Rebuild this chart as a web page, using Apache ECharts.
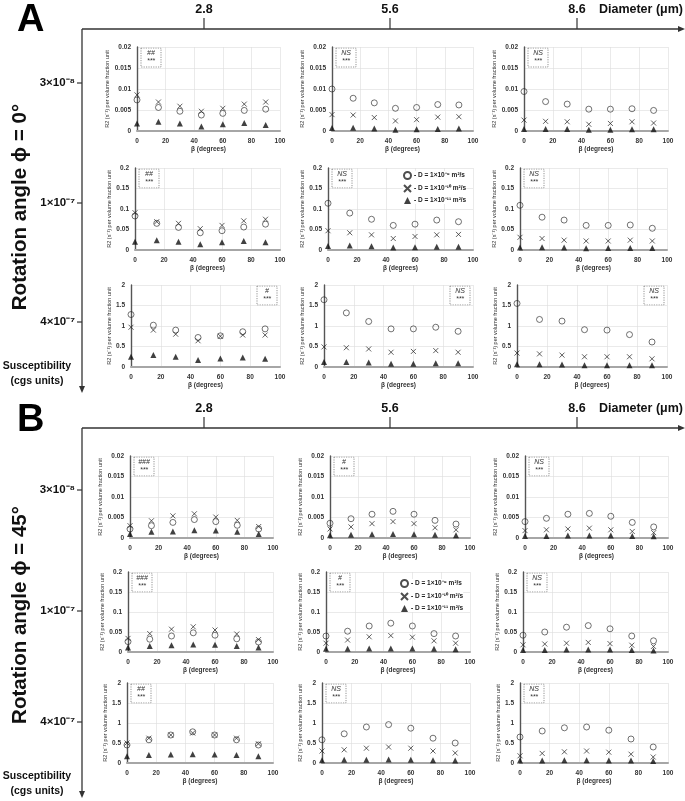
<!DOCTYPE html>
<html><head><meta charset="utf-8">
<script src="https://cdn.jsdelivr.net/npm/echarts@6/dist/echarts.min.js"></script>
<style>html,body{margin:0;padding:0;background:#fff}#c{width:685px;height:801px}</style>
</head><body><div id="c"></div>
<script>
// ---------- DATA ----------
const betaDeg = [0, 15, 30, 45, 60, 75, 90];
const diameterLabels = ['2.8', '5.6', '8.6'];
const susceptibilityLabels = ['3×10⁻⁸', '1×10⁻⁷', '4×10⁻⁷'];
const seriesNames = ['D = 1×10⁻⁹ m²/s', 'D = 1×10⁻¹⁰ m²/s', 'D = 1×10⁻¹¹ m²/s'];
const rowYMax = [0.02, 0.2, 2];
const rowYInterval = [0.005, 0.05, 0.5];
const panelTitles = ['Rotation angle ϕ = 0°', 'Rotation angle ϕ = 45°'];
const sigA = [['##', 'NS', 'NS'], ['##', 'NS', 'NS'], ['#', 'NS', 'NS']];
const sigB = [['###', '#', 'NS'], ['###', '#', 'NS'], ['##', 'NS', 'NS']];

// Panel A (ϕ = 0°): aRC_dN  (R = susceptibility row, C = diameter column)
const a11_d9  = [0.0074, 0.0056, 0.0047, 0.0038, 0.0042, 0.0049, 0.0052];
const a11_d10 = [0.0086, 0.0069, 0.0059, 0.0047, 0.0054, 0.0064, 0.0069];
const a11_d11 = [0.0018, 0.0022, 0.0018, 0.0011, 0.0016, 0.0019, 0.0014];
const a12_d9  = [0.0100, 0.0078, 0.0067, 0.0054, 0.0056, 0.0063, 0.0062];
const a12_d10 = [0.0039, 0.0038, 0.0032, 0.0024, 0.0027, 0.0033, 0.0034];
const a12_d11 = [0.0007, 0.0008, 0.0006, 0.0003, 0.0004, 0.0005, 0.0006];
const a13_d9  = [0.0094, 0.0070, 0.0064, 0.0052, 0.0052, 0.0053, 0.0049];
const a13_d10 = [0.0026, 0.0023, 0.0022, 0.0016, 0.0018, 0.0022, 0.0019];
const a13_d11 = [0.0005, 0.0005, 0.0005, 0.0003, 0.0003, 0.0004, 0.0004];
const a21_d9  = [0.083, 0.065, 0.055, 0.042, 0.047, 0.056, 0.063];
const a21_d10 = [0.091, 0.069, 0.065, 0.052, 0.060, 0.071, 0.075];
const a21_d11 = [0.020, 0.024, 0.020, 0.014, 0.019, 0.022, 0.019];
const a22_d9  = [0.114, 0.090, 0.075, 0.060, 0.063, 0.073, 0.069];
const a22_d10 = [0.047, 0.042, 0.037, 0.028, 0.033, 0.037, 0.038];
const a22_d11 = [0.010, 0.011, 0.009, 0.006, 0.007, 0.008, 0.008];
const a23_d9  = [0.109, 0.080, 0.073, 0.060, 0.060, 0.061, 0.053];
const a23_d10 = [0.031, 0.028, 0.024, 0.022, 0.022, 0.024, 0.022];
const a23_d11 = [0.006, 0.007, 0.006, 0.004, 0.005, 0.005, 0.005];
const a31_d9  = [1.28, 1.02, 0.90, 0.72, 0.76, 0.86, 0.93];
const a31_d10 = [0.97, 0.90, 0.80, 0.64, 0.75, 0.78, 0.78];
const a31_d11 = [0.25, 0.29, 0.25, 0.17, 0.21, 0.23, 0.20];
const a32_d9  = [1.64, 1.32, 1.11, 0.93, 0.93, 0.97, 0.87];
const a32_d10 = [0.49, 0.47, 0.44, 0.36, 0.38, 0.40, 0.36];
const a32_d11 = [0.12, 0.12, 0.11, 0.08, 0.08, 0.09, 0.09];
const a33_d9  = [1.55, 1.16, 1.12, 0.91, 0.90, 0.79, 0.61];
const a33_d10 = [0.34, 0.32, 0.29, 0.25, 0.25, 0.25, 0.20];
const a33_d11 = [0.07, 0.07, 0.06, 0.04, 0.04, 0.04, 0.04];

// Panel B (ϕ = 45°)
const b11_d9  = [0.0022, 0.0030, 0.0038, 0.0045, 0.0040, 0.0031, 0.0022];
const b11_d10 = [0.0030, 0.0042, 0.0054, 0.0059, 0.0051, 0.0043, 0.0028];
const b11_d11 = [0.0010, 0.0015, 0.0016, 0.0019, 0.0018, 0.0015, 0.0010];
const b12_d9  = [0.0036, 0.0047, 0.0058, 0.0065, 0.0058, 0.0043, 0.0034];
const b12_d10 = [0.0022, 0.0027, 0.0035, 0.0040, 0.0035, 0.0025, 0.0020];
const b12_d11 = [0.0007, 0.0008, 0.0009, 0.0010, 0.0009, 0.0008, 0.0007];
const b13_d9  = [0.0040, 0.0048, 0.0058, 0.0060, 0.0053, 0.0038, 0.0027];
const b13_d10 = [0.0018, 0.0020, 0.0022, 0.0024, 0.0020, 0.0016, 0.0013];
const b13_d11 = [0.0005, 0.0005, 0.0006, 0.0006, 0.0006, 0.0005, 0.0004];
const b21_d9  = [0.026, 0.032, 0.040, 0.048, 0.042, 0.033, 0.025];
const b21_d10 = [0.034, 0.046, 0.057, 0.063, 0.055, 0.045, 0.031];
const b21_d11 = [0.011, 0.015, 0.017, 0.019, 0.018, 0.015, 0.011];
const b22_d9  = [0.040, 0.052, 0.065, 0.072, 0.065, 0.046, 0.040];
const b22_d10 = [0.022, 0.030, 0.038, 0.041, 0.037, 0.028, 0.022];
const b22_d11 = [0.008, 0.008, 0.009, 0.009, 0.009, 0.008, 0.007];
const b23_d9  = [0.042, 0.050, 0.062, 0.066, 0.058, 0.040, 0.028];
const b23_d10 = [0.018, 0.020, 0.022, 0.024, 0.021, 0.017, 0.014];
const b23_d11 = [0.005, 0.005, 0.006, 0.006, 0.006, 0.005, 0.004];
const b31_d9  = [0.45, 0.58, 0.70, 0.78, 0.70, 0.58, 0.45];
const b31_d10 = [0.50, 0.62, 0.70, 0.75, 0.70, 0.62, 0.48];
const b31_d11 = [0.17, 0.20, 0.21, 0.22, 0.21, 0.20, 0.17];
const b32_d9  = [0.58, 0.73, 0.90, 0.96, 0.87, 0.62, 0.50];
const b32_d10 = [0.30, 0.33, 0.37, 0.40, 0.37, 0.30, 0.25];
const b32_d11 = [0.07, 0.08, 0.08, 0.09, 0.08, 0.07, 0.06];
const b33_d9  = [0.65, 0.80, 0.88, 0.90, 0.82, 0.60, 0.40];
const b33_d10 = [0.18, 0.24, 0.28, 0.30, 0.27, 0.22, 0.15];
const b33_d11 = [0.06, 0.06, 0.07, 0.07, 0.06, 0.06, 0.05];

const panelData = [
  [[[a11_d9, a11_d10, a11_d11], [a12_d9, a12_d10, a12_d11], [a13_d9, a13_d10, a13_d11]],
   [[a21_d9, a21_d10, a21_d11], [a22_d9, a22_d10, a22_d11], [a23_d9, a23_d10, a23_d11]],
   [[a31_d9, a31_d10, a31_d11], [a32_d9, a32_d10, a32_d11], [a33_d9, a33_d10, a33_d11]]],
  [[[b11_d9, b11_d10, b11_d11], [b12_d9, b12_d10, b12_d11], [b13_d9, b13_d10, b13_d11]],
   [[b21_d9, b21_d10, b21_d11], [b22_d9, b22_d10, b22_d11], [b23_d9, b23_d10, b23_d11]],
   [[b31_d9, b31_d10, b31_d11], [b32_d9, b32_d10, b32_d11], [b33_d9, b33_d10, b33_d11]]]
];
const panelSig = [sigA, sigB];

// ---------- LAYOUT ----------
const layout = [
  { // panel A
    rows: [
      { top: 47, bottom: 131, cols: [[137, 280], [332, 473], [524, 668]] },
      { top: 168, bottom: 250, cols: [[135, 280], [328, 473], [520, 667]] },
      { top: 285, bottom: 367, cols: [[131, 280], [324, 473], [517, 667]] }
    ],
    sigRight: [[false, false, false], [false, false, false], [true, true, true]],
    legendPos: { left: 403, top: 171 },
    axisTop: 29, axisBottom: 393, letterY: 21, labelY: 10,
    ticksY: [83, 203, 322], suscY: 374, rotY: 207
  },
  { // panel B
    rows: [
      { top: 456, bottom: 538, cols: [[130, 273], [330, 470], [525, 668]] },
      { top: 572, bottom: 652, cols: [[128, 273], [326, 470], [523, 668]] },
      { top: 683, bottom: 763, cols: [[127, 273], [322, 470], [520, 668]] }
    ],
    sigRight: [[false, false, false], [false, false, false], [false, false, false]],
    legendPos: { left: 400, top: 579 },
    axisTop: 428, axisBottom: 798, letterY: 421, labelY: 409,
    ticksY: [490, 611, 722], suscY: 784, rotY: 615
  }
];
const diameterX = [204, 390, 577];
const axisX = 82;

const labelFont = { fontSize: 6.5, fontWeight: 'bold', color: '#333', fontFamily: 'Liberation Sans, Arial, sans-serif' };
const crossPath = 'path://M0,0L10,10M10,0L0,10';
const symbolStyles = [
  { symbol: 'circle', symbolSize: 6, itemStyle: { color: 'rgba(255,255,255,0)', borderColor: '#222', borderWidth: 0.8 } },
  { symbol: crossPath, symbolSize: 5, itemStyle: { color: 'rgba(255,255,255,0)', borderColor: '#222', borderWidth: 0.9 } },
  { symbol: 'triangle', symbolSize: 6, itemStyle: { color: '#111' } }
];

const grids = [], xAxes = [], yAxes = [], series = [], graphics = [], legends = [];
let gi = 0;
const boldFam = "'Liberation Sans Narrow', 'Liberation Sans', Arial, sans-serif";

layout.forEach((P, p) => {
  P.rows.forEach((R, r) => {
    R.cols.forEach((C, c) => {
      const L = C[0], Rt = C[1];
      grids.push({ left: L, top: R.top, width: Rt - L, height: R.bottom - R.top });
      xAxes.push({
        gridIndex: gi, type: 'value', min: 0, max: 100, interval: 20,
        name: 'β (degrees)', nameLocation: 'middle', nameGap: 13,
        nameTextStyle: { fontSize: 6.5, fontWeight: 'bold', color: '#333', fontFamily: 'Liberation Sans, Arial, sans-serif' },
        axisLine: { show: true, lineStyle: { color: '#a6a6a6', width: 2 } },
        axisTick: { show: false },
        axisLabel: Object.assign({ margin: 7 }, labelFont),
        splitLine: { show: true, lineStyle: { color: '#dcdcdc', width: 0.6 } }
      });
      yAxes.push({
        gridIndex: gi, type: 'value', min: 0, max: rowYMax[r], interval: rowYInterval[r],
        name: 'R2 (s⁻¹) per volume fraction unit', nameLocation: 'middle', nameGap: r === 2 ? 16 : 22,
        nameTextStyle: { fontSize: 5.5, color: '#333', fontFamily: 'Liberation Sans, Arial, sans-serif' },
        axisLine: { show: true, onZero: false, lineStyle: { color: '#555', width: 1.4 } },
        axisTick: { show: false },
        axisLabel: Object.assign({ margin: 6 }, labelFont),
        splitLine: { show: true, lineStyle: { color: '#dcdcdc', width: 0.6 } }
      });
      const sets = panelData[p][r][c];
      sets.forEach((vals, k) => {
        series.push(Object.assign({
          type: 'scatter', name: seriesNames[k], xAxisIndex: gi, yAxisIndex: gi,
          data: betaDeg.map((b, i) => [b, vals[i]]), z: 3 + k, silent: true
        }, symbolStyles[k]));
      });
      // significance box
      const bw = 20, bh = 19;
      const bx = P.sigRight[r][c] ? Rt - bw - 3 : L + 4;
      const by = R.top + 1;
      const sig = panelSig[p][r][c];
      graphics.push({
        type: 'group', x: bx, y: by, children: [
          { type: 'rect', shape: { x: 0, y: 0, width: bw, height: bh }, style: { fill: '#fff', stroke: '#666', lineWidth: 0.7, lineDash: [1.2, 1.2] } },
          { type: 'text', x: bw / 2, y: 5, style: { text: sig, fontSize: 7, fontStyle: 'italic', fill: '#333', align: 'center', verticalAlign: 'middle', fontFamily: 'Liberation Sans, Arial, sans-serif' } },
          { type: 'text', x: bw / 2, y: 13.5, style: { text: '***', fontSize: 7, fontStyle: 'italic', fill: '#333', align: 'center', verticalAlign: 'middle', fontFamily: 'Liberation Sans, Arial, sans-serif' } }
        ]
      });
      gi++;
    });
  });

  legends.push({
    data: seriesNames, orient: 'vertical', left: P.legendPos.left, top: P.legendPos.top,
    itemWidth: 7, itemHeight: 7, itemGap: 4, padding: 0, selectedMode: false,
    backgroundColor: '#fff',
    formatter: n => '- ' + n,
    textStyle: { fontSize: 6.5, fontWeight: 'bold', color: '#222', padding: [0, 0, 0, -2], fontFamily: 'Liberation Sans, Arial, sans-serif' }
  });

  // decorations: panel letter, diameter axis, susceptibility axis
  const top = P.axisTop;
  graphics.push({ type: 'text', x: 17, y: P.letterY, style: { text: p === 0 ? 'A' : 'B', fontSize: 38, fontWeight: 'bold', fill: '#000', verticalAlign: 'middle', fontFamily: 'Liberation Sans, Arial, sans-serif' } });
  graphics.push({ type: 'line', shape: { x1: axisX, y1: top, x2: 682, y2: top }, style: { stroke: '#333', lineWidth: 1.3 } });
  graphics.push({ type: 'polygon', shape: { points: [[685, top], [678, top - 3], [678, top + 3]] }, style: { fill: '#333' } });
  graphics.push({ type: 'line', shape: { x1: axisX, y1: top, x2: axisX, y2: P.axisBottom - 4 }, style: { stroke: '#333', lineWidth: 1.3 } });
  graphics.push({ type: 'polygon', shape: { points: [[axisX, P.axisBottom], [axisX - 3, P.axisBottom - 7], [axisX + 3, P.axisBottom - 7]] }, style: { fill: '#333' } });
  diameterX.forEach((x, i) => {
    graphics.push({ type: 'line', shape: { x1: x, y1: top - 11, x2: x, y2: top }, style: { stroke: '#333', lineWidth: 1.2 } });
    graphics.push({ type: 'text', x: x, y: P.labelY, style: { text: diameterLabels[i], fontSize: 12.5, fontWeight: 'bold', fill: '#111', align: 'center', verticalAlign: 'middle', fontFamily: boldFam } });
  });
  graphics.push({ type: 'text', x: 683, y: P.labelY, style: { text: 'Diameter (μm)', fontSize: 12.5, fontWeight: 'bold', fill: '#111', align: 'right', verticalAlign: 'middle', fontFamily: boldFam } });
  P.ticksY.forEach((y, i) => {
    graphics.push({ type: 'line', shape: { x1: axisX - 5, y1: y, x2: axisX, y2: y }, style: { stroke: '#333', lineWidth: 1.2 } });
    graphics.push({ type: 'text', x: axisX - 7, y: y, style: { text: susceptibilityLabels[i], fontSize: 11.5, fontWeight: 'bold', fill: '#111', align: 'right', verticalAlign: 'middle', fontFamily: boldFam } });
  });
  graphics.push({ type: 'text', x: 37, y: P.suscY, style: { text: 'Susceptibility\n(cgs units)', fontSize: 10.5, lineHeight: 15, fontWeight: 'bold', fill: '#111', align: 'center', verticalAlign: 'middle', fontFamily: boldFam } });
  graphics.push({ type: 'text', x: 20, y: P.rotY, rotation: Math.PI / 2, style: { text: panelTitles[p], fontSize: 20.5, fontWeight: 'bold', fill: '#111', align: 'center', verticalAlign: 'middle', fontFamily: boldFam } });
});

const chart = echarts.init(document.getElementById('c'), null, { renderer: 'canvas' });
chart.setOption({
  backgroundColor: '#fff',
  animation: false,
  grid: grids, xAxis: xAxes, yAxis: yAxes, series: series,
  legend: legends,
  graphic: graphics
});
</script>
</body></html>
